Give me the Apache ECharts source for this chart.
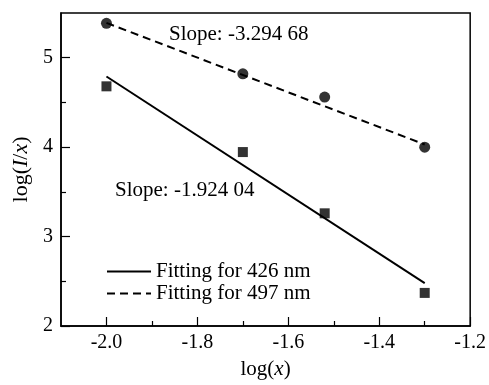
<!DOCTYPE html>
<html>
<head>
<meta charset="utf-8">
<script src="https://cdn.jsdelivr.net/npm/echarts@6/dist/echarts.min.js"></script>
<style>
  html, body { margin: 0; padding: 0; background: #fff; }
  #chart { width: 489px; height: 385px; }
</style>
</head>
<body>
<div id="chart"></div>
<script>
// measured points
const pts426 = [[-2.0, 4.68], [-1.7, 3.945], [-1.52, 3.26], [-1.3, 2.37]];
const pts497 = [[-2.0, 5.385], [-1.7, 4.82], [-1.52, 4.56], [-1.3, 4.0]];
// fitted lines (end points)
const fit426 = [[-2.0, 4.79], [-1.3, 2.48]];
const fit497 = [[-2.0, 5.39], [-1.3, 4.03]];

const xMajor = [-2.0, -1.8, -1.6, -1.4, -1.2];
const xMinor = [-1.9, -1.7, -1.5, -1.3];
const yMajor = [2, 3, 4, 5];
const yMinor = [2.5, 3.5, 4.5];

const slope426 = "Slope: -1.924 04";
const slope497 = "Slope: -3.294 68";

const FONT = "'Liberation Serif', 'DejaVu Serif', serif";

const chart = echarts.init(document.getElementById("chart"));

const baseX = {
  type: "value", min: -2.1, max: -1.2, position: "bottom",
  splitLine: { show: false },
};
const baseY = {
  type: "value", min: 2, max: 5.5, position: "left",
  splitLine: { show: false },
};

chart.setOption({
  animation: false,
  textStyle: { fontFamily: FONT, color: "#000" },
  grid: {
    left: 61, right: 17, top: 13, bottom: 53,
    show: true, borderColor: "#000", borderWidth: 1.5,
  },
  xAxis: [
    {
      ...baseX,
      axisLine: { show: true, lineStyle: { color: "#000", width: 1.5 } },
      axisTick: { show: true, inside: true, length: 9, customValues: xMajor,
        lineStyle: { color: "#000", width: 1.2 } },
      axisLabel: { customValues: xMajor, margin: 7, fontSize: 20, color: "#000",
        fontFamily: FONT, formatter: v => v.toFixed(1) },
      name: "log({i|x})",
      nameLocation: "middle",
      nameGap: 33,
      nameTextStyle: { fontSize: 21, color: "#000", fontFamily: FONT,
        rich: { i: { fontSize: 21, fontStyle: "italic", fontFamily: FONT } } },
    },
    {
      ...baseX,
      axisLine: { show: false },
      axisTick: { show: true, inside: true, length: 5, customValues: xMinor,
        lineStyle: { color: "#000", width: 1.2 } },
      axisLabel: { show: false },
    },
  ],
  yAxis: [
    {
      ...baseY,
      axisLine: { show: true, lineStyle: { color: "#000", width: 1.5 } },
      axisTick: { show: true, inside: true, length: 9, customValues: yMajor,
        lineStyle: { color: "#000", width: 1.2 } },
      axisLabel: { customValues: yMajor, margin: 8, fontSize: 20, color: "#000",
        fontFamily: FONT },
      name: "log({i|I}/{i|x})",
      nameLocation: "middle",
      nameGap: 29,
      nameTextStyle: { fontSize: 22, color: "#000", fontFamily: FONT,
        rich: { i: { fontSize: 22, fontStyle: "italic", fontFamily: FONT } } },
    },
    {
      ...baseY,
      axisLine: { show: false },
      axisTick: { show: true, inside: true, length: 5, customValues: yMinor,
        lineStyle: { color: "#000", width: 1.2 } },
      axisLabel: { show: false },
    },
  ],
  legend: {
    orient: "vertical",
    left: 101, top: 256,
    itemWidth: 44, itemHeight: 10, itemGap: 1,
    itemStyle: { opacity: 0 },
    textStyle: { fontSize: 21, color: "#000", fontFamily: FONT },
    data: ["Fitting for 426 nm", "Fitting for 497 nm"],
  },
  graphic: [
    { type: "text", left: 169, top: 24,
      style: { text: slope497, font: "21px " + FONT, fill: "#000" } },
    { type: "text", left: 115, top: 180,
      style: { text: slope426, font: "21px " + FONT, fill: "#000" } },
  ],
  series: [
    {
      name: "Fitting for 426 nm", type: "line", data: fit426,
      symbol: "none", lineStyle: { color: "#000", width: 2, type: "solid" },
      itemStyle: { color: "#000" }, z: 2,
    },
    {
      name: "Fitting for 497 nm", type: "line", data: fit497,
      symbol: "none", lineStyle: { color: "#000", width: 2, type: [8, 5] },
      itemStyle: { color: "#000" }, z: 2,
    },
    {
      name: "426 nm", type: "scatter", data: pts426,
      symbol: "rect", symbolSize: 10, itemStyle: { color: "#000" }, z: 3,
    },
    {
      name: "497 nm", type: "scatter", data: pts497,
      symbol: "circle", symbolSize: 11, itemStyle: { color: "#000" }, z: 3,
    },
  ],
});
</script>
</body>
</html>
